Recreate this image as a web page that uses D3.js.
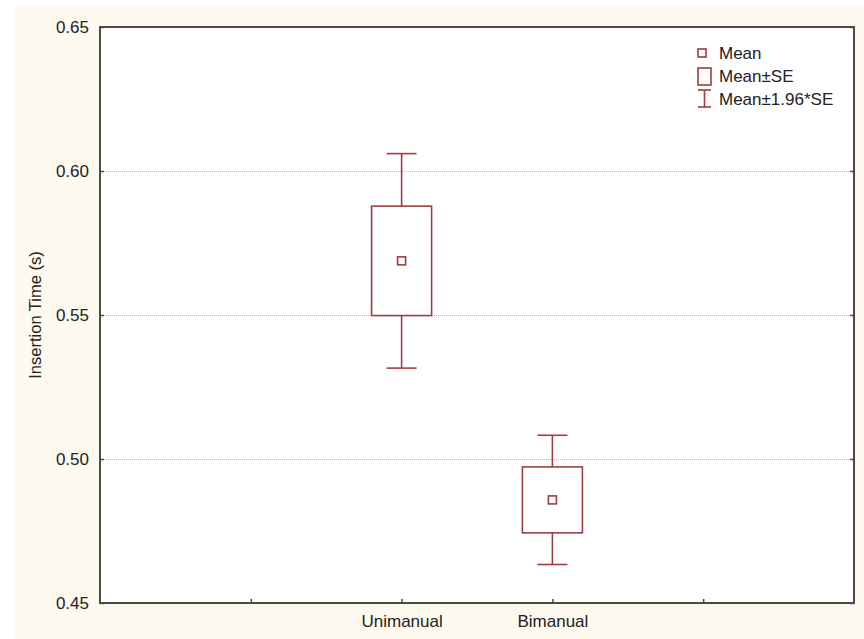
<!DOCTYPE html>
<html>
<head>
<meta charset="utf-8">
<script src="https://cdn.jsdelivr.net/npm/d3@7"></script>
<style>
  body { margin: 0; background: #ffffff; }
  svg { display: block; }
  text { font-family: "Liberation Sans", Arial, sans-serif; fill: #222; }
</style>
</head>
<body>
<div id="chart"></div>
<script>
// donnees
const categories = ["Unimanual", "Bimanual"];
const means = [0.5688, 0.4858];
const stdErrors = [0.0190, 0.01145];
const yTicks = [0.45, 0.50, 0.55, 0.60, 0.65];
const legendLabels = ["Mean", "Mean\u00b1SE", "Mean\u00b11.96*SE"];

const width = 864, height = 639,
    margin = {left: 100, right: 10, top: 27, bottom: 36},
    fontSize = "17px",
    markColor = "#a03c42",
    frameColor = "#4a4a4a";

const svg = d3.select("#chart").append("svg")
    .attr("width", width)
    .attr("height", height);

// fond creme
svg.append("rect")
    .attr("x", 15).attr("y", 6)
    .attr("width", width - 15).attr("height", height - 6)
    .style("fill", "#fdf9ee");

const plotW = 754, plotH = height - margin.top - margin.bottom;

// echelles
const y = d3.scaleLinear().domain([0.45, 0.65]).range([margin.top + plotH, margin.top]);
const x = d3.scaleLinear().domain([0, 5]).range([margin.left, margin.left + plotW]);
const xPos = i => x(i + 2);

svg.append("rect")
    .attr("x", margin.left).attr("y", margin.top)
    .attr("width", plotW).attr("height", plotH)
    .style("fill", "#ffffff");

// grille pointillee
svg.append("g").selectAll("line")
    .data(yTicks.slice(1, -1))
    .enter().append("line")
    .attr("x1", margin.left).attr("x2", margin.left + plotW)
    .attr("y1", d => Math.round(y(d)) + 0.5).attr("y2", d => Math.round(y(d)) + 0.5)
    .style("stroke", "#bcbcbc")
    .style("stroke-width", 1)
    .style("stroke-dasharray", "1,1");

// axes
const yAxis = svg.append("g")
    .attr("transform", "translate(" + margin.left + ",0)")
    .call(d3.axisLeft(y).tickValues(yTicks).tickFormat(d3.format(".2f")).tickSizeInner(-4).tickSizeOuter(0).tickPadding(11));
yAxis.select(".domain").remove();
yAxis.selectAll("line").style("stroke", frameColor).style("stroke-width", 1.5);
yAxis.selectAll("text").style("font-size", fontSize).style("fill", "#222");

svg.append("g")
    .attr("transform", "translate(" + (margin.left + plotW) + ",0)")
    .call(d3.axisRight(y).tickValues(yTicks).tickFormat("").tickSizeInner(-4).tickSizeOuter(0))
    .call(g => g.select(".domain").remove())
    .selectAll("line").style("stroke", frameColor).style("stroke-width", 1.5);

const xAxis = svg.append("g")
    .attr("transform", "translate(0," + (margin.top + plotH) + ")")
    .call(d3.axisBottom(x).tickValues([1, 2, 3, 4])
        .tickFormat(d => categories[d - 2] || "")
        .tickSizeInner(-4).tickSizeOuter(0).tickPadding(12));
xAxis.select(".domain").remove();
xAxis.selectAll("line").style("stroke", frameColor).style("stroke-width", 1.5);
xAxis.selectAll("text").style("font-size", fontSize).style("fill", "#222");

// cadre
svg.append("rect")
    .attr("x", margin.left).attr("y", margin.top)
    .attr("width", plotW).attr("height", plotH)
    .style("fill", "none")
    .style("stroke", frameColor)
    .style("stroke-width", 2);

// titre axe y
svg.append("text")
    .attr("transform", "translate(41," + (margin.top + plotH / 2) + ") rotate(-90)")
    .attr("text-anchor", "middle")
    .style("font-size", "16.5px")
    .text("Insertion Time (s)");

// boites et moustaches
const boxHalf = 30, capHalf = 15, meanSize = 8;
const groups = svg.append("g").selectAll("g")
    .data(categories.map((c, i) => ({c: c, i: i, m: means[i], se: stdErrors[i]})))
    .enter().append("g")
    .style("stroke", markColor)
    .style("stroke-width", 1.6)
    .style("fill", "none");

groups.append("line")
    .attr("x1", d => xPos(d.i)).attr("x2", d => xPos(d.i))
    .attr("y1", d => y(d.m + 1.96 * d.se)).attr("y2", d => y(d.m + d.se));
groups.append("line")
    .attr("x1", d => xPos(d.i)).attr("x2", d => xPos(d.i))
    .attr("y1", d => y(d.m - d.se)).attr("y2", d => y(d.m - 1.96 * d.se));
groups.append("line")
    .attr("x1", d => xPos(d.i) - capHalf).attr("x2", d => xPos(d.i) + capHalf)
    .attr("y1", d => y(d.m + 1.96 * d.se)).attr("y2", d => y(d.m + 1.96 * d.se));
groups.append("line")
    .attr("x1", d => xPos(d.i) - capHalf).attr("x2", d => xPos(d.i) + capHalf)
    .attr("y1", d => y(d.m - 1.96 * d.se)).attr("y2", d => y(d.m - 1.96 * d.se));
groups.append("rect")
    .attr("x", d => xPos(d.i) - boxHalf)
    .attr("y", d => y(d.m + d.se))
    .attr("width", boxHalf * 2)
    .attr("height", d => y(d.m - d.se) - y(d.m + d.se));
groups.append("rect")
    .attr("x", d => xPos(d.i) - meanSize / 2)
    .attr("y", d => y(d.m) - meanSize / 2)
    .attr("width", meanSize).attr("height", meanSize);

// legende
const legend = svg.append("g").attr("transform", "translate(697, 45)");
const lg = legend.append("g")
    .style("stroke", markColor).style("stroke-width", 1.6).style("fill", "none");
lg.append("rect").attr("x", 1).attr("y", 4).attr("width", 8).attr("height", 8);
lg.append("rect").attr("x", 1).attr("y", 23).attr("width", 13).attr("height", 17);
lg.append("line").attr("x1", 7.5).attr("x2", 7.5).attr("y1", 45).attr("y2", 62);
lg.append("line").attr("x1", 1).attr("x2", 14).attr("y1", 45).attr("y2", 45);
lg.append("line").attr("x1", 1).attr("x2", 14).attr("y1", 62).attr("y2", 62);

legend.selectAll("text.lbl")
    .data(legendLabels)
    .enter().append("text")
    .attr("class", "lbl")
    .attr("x", 22)
    .attr("y", (d, i) => 14 + i * 23)
    .style("font-size", fontSize)
    .text(d => d);
</script>
</body>
</html>
